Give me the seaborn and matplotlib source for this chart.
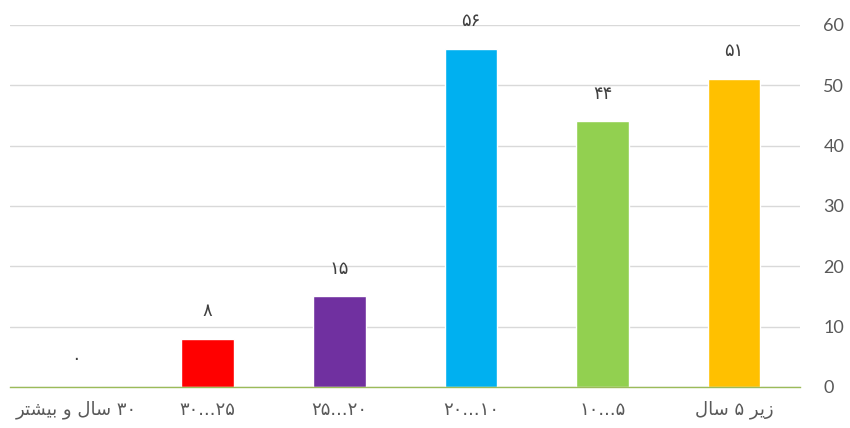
import matplotlib
matplotlib.use('Agg')
import matplotlib.pyplot as plt
import seaborn as sns
import pandas as pd

# labels written in visual order with Arabic presentation forms (matplotlib does no shaping / bidi)
SAL = '\uFEDD\uFE8E\uFEB3'          # سال
ZIR = '\uFEAE\uFEF3\uFEAF'          # زیر
BISHTAR = '\uFEAE\uFE98\uFEB8\uFEF4\uFE91'  # بیشتر
VA = '\uFEED'                       # و

categories = [BISHTAR + ' ' + VA + ' ' + SAL + ' ۳۰',
              '۳۰...۲۵', '۲۵...۲۰', '۲۰...۱۰', '۱۰...۵',
              SAL + ' ۵ ' + ZIR]
values = [0, 8, 15, 56, 44, 51]
value_labels = ['۰', '۸', '۱۵', '۵۶', '۴۴', '۵۱']
colors = ['#A5A5A5', '#FF0000', '#7030A0', '#00B0F0', '#92D050', '#FFC000']
yticks = [0, 10, 20, 30, 40, 50, 60]

sns.set_style('white')
plt.rcParams['font.family'] = ['DejaVu Sans']

df = pd.DataFrame({'cat': categories, 'val': values})

fig = plt.figure(figsize=(8.5, 4.28), dpi=100)
ax = fig.add_axes([0.012, 0.096, 0.929, 0.846])

sns.barplot(data=df, x='cat', y='val', hue='cat', palette=colors,
            order=categories, hue_order=categories, width=0.4,
            legend=False, ax=ax, saturation=1)

ax.set_ylim(0, 60)
ax.set_yticks(yticks)
ax.yaxis.tick_right()
ax.grid(axis='y', color='#D9D9D9', linewidth=1)
ax.set_axisbelow(True)
for s in ['top', 'left', 'right']:
    ax.spines[s].set_visible(False)
ax.spines['bottom'].set_color('#9BBB59')
ax.spines['bottom'].set_linewidth(1)
ax.tick_params(axis='y', length=0, labelsize=13, labelcolor='#595959', pad=17)
ax.tick_params(axis='x', length=0, labelsize=13, labelcolor='#595959', pad=10)
for t in ax.get_yticklabels():
    t.set_family('Lato')
ax.set_xlabel('')
ax.set_ylabel('')

for i, (v, lab) in enumerate(zip(values, value_labels)):
    ax.text(i, v + 4.6, lab, ha='center', va='center', fontsize=13, color='#404040')

fig.savefig('out.png', dpi=100)
